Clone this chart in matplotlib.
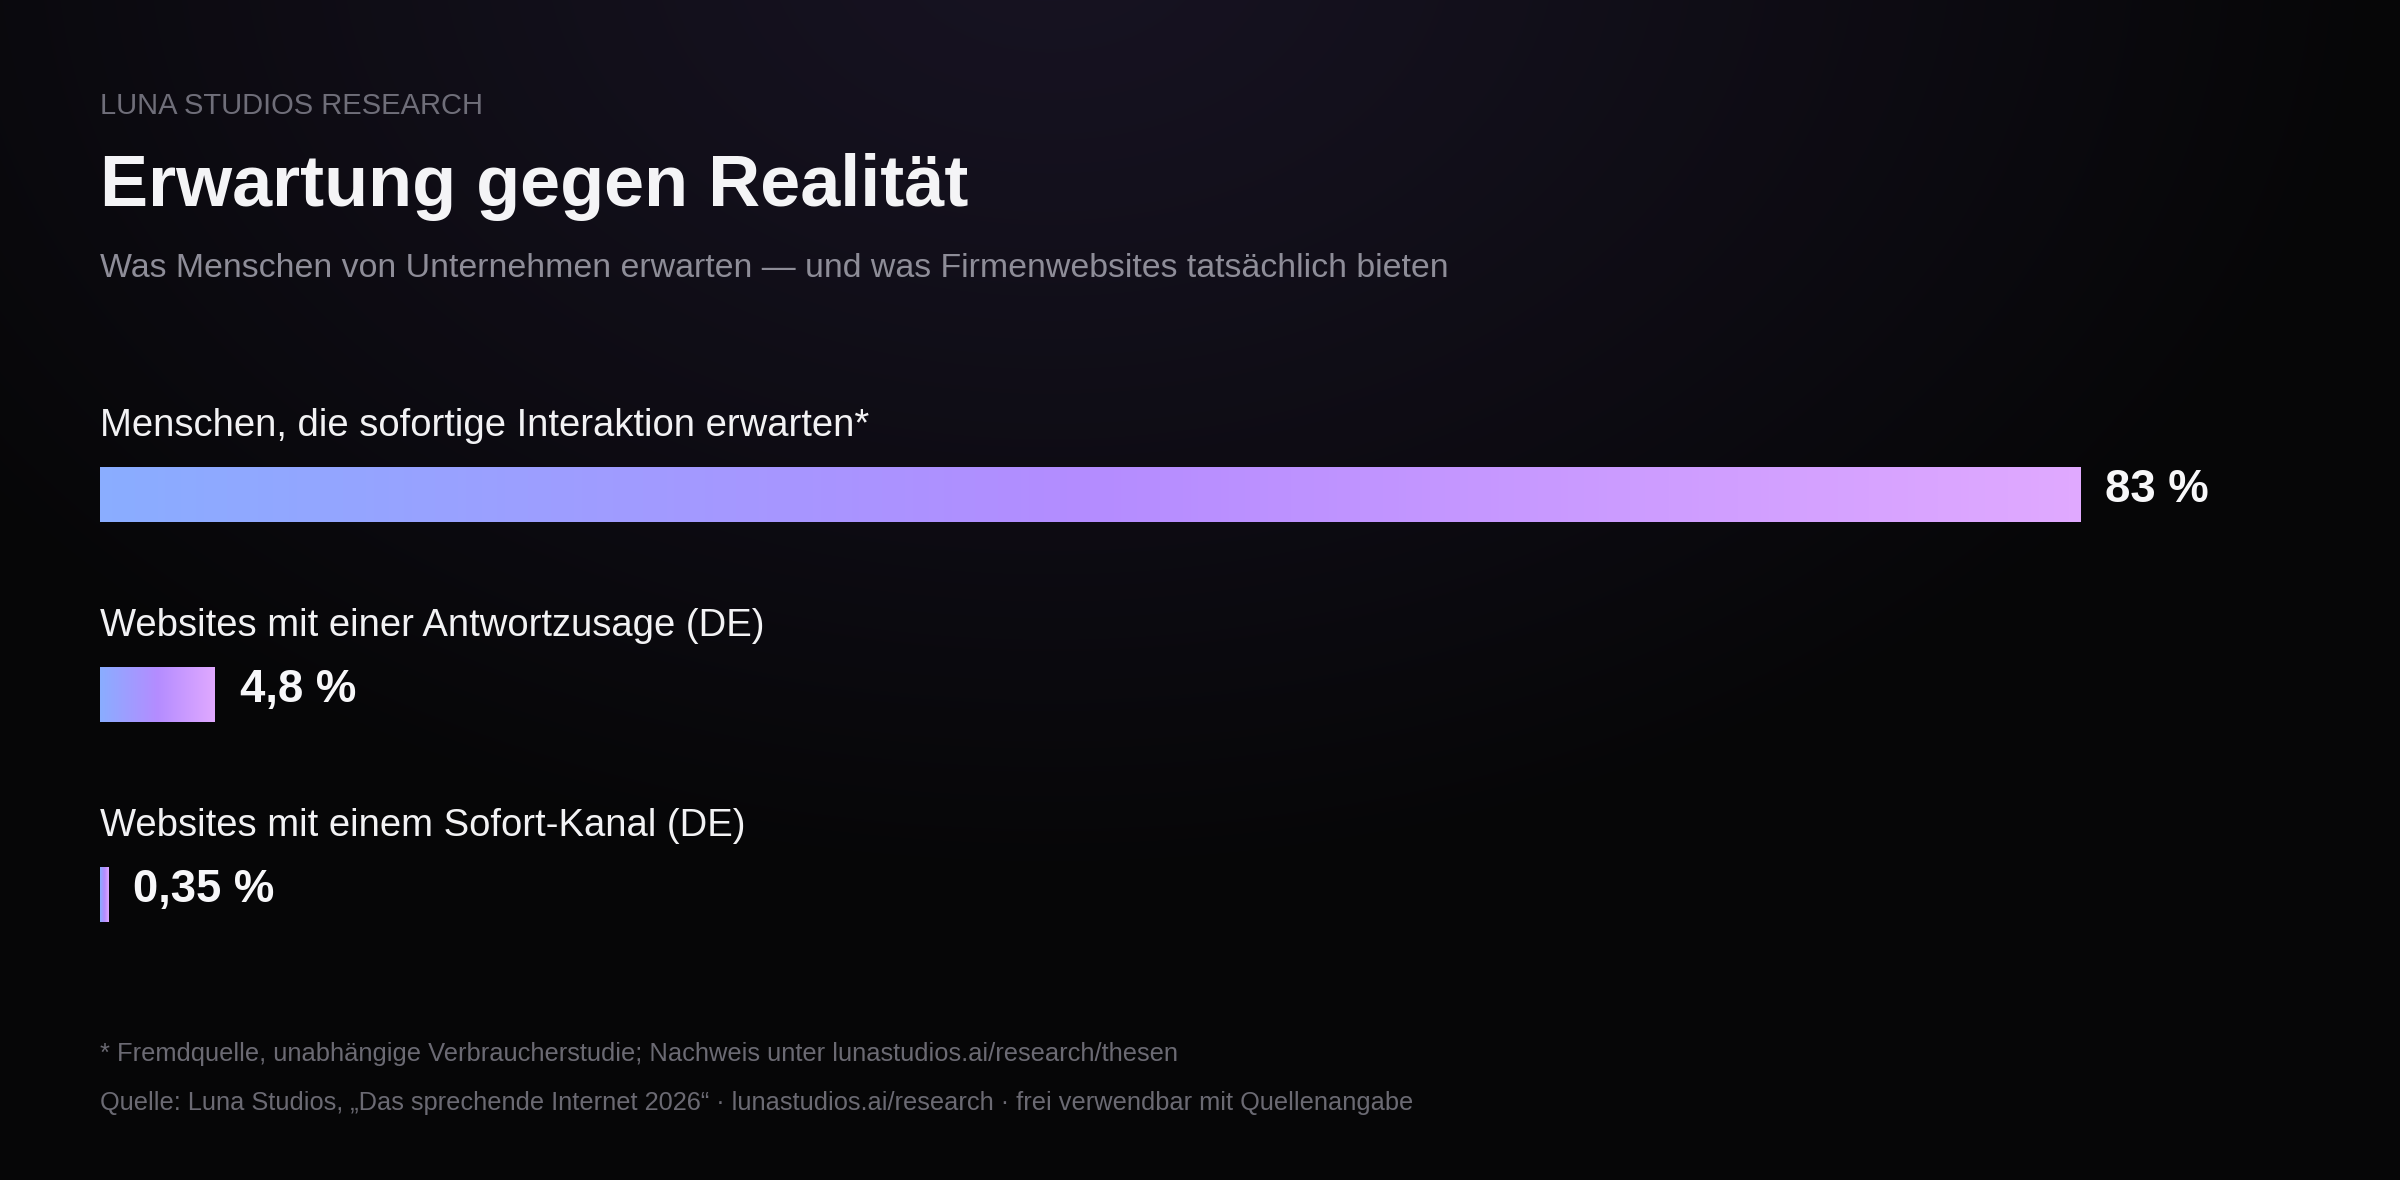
import numpy as np
import matplotlib
matplotlib.use("Agg")
import matplotlib.pyplot as plt
from matplotlib.colors import LinearSegmentedColormap

plt.rcParams['font.family'] = ['Liberation Sans', 'DejaVu Sans']

# ---- data ----
categories = [
    "Menschen, die sofortige Interaktion erwarten*",
    "Websites mit einer Antwortzusage (DE)",
    "Websites mit einem Sofort-Kanal (DE)",
]
values = [83, 4.8, 0.35]
value_labels = [f"{v:g}".replace('.', ',') + " %" for v in values]

kicker = "LUNA STUDIOS RESEARCH"
title = "Erwartung gegen Realität"
subtitle = "Was Menschen von Unternehmen erwarten — und was Firmenwebsites tatsächlich bieten"
footnote = "* Fremdquelle, unabhängige Verbraucherstudie; Nachweis unter lunastudios.ai/research/thesen"
source = "Quelle: Luna Studios, „Das sprechende Internet 2026“ · lunastudios.ai/research · frei verwendbar mit Quellenangabe"

# ---- figure ----
W, H = 2400, 1180
fig = plt.figure(figsize=(W / 100, H / 100), dpi=100)

# background radial glow
bg = fig.add_axes([0, 0, 1, 1], zorder=-10)
yy, xx = np.mgrid[0:H, 0:W]
d = np.sqrt(((xx - 1050) / 1350.0) ** 2 + ((yy + 60) / 950.0) ** 2)
t = np.clip(d, 0, 1) ** 1.2
c0 = np.array([0x17, 0x13, 0x22]) / 255.0
c1 = np.array([0x06, 0x06, 0x07]) / 255.0
img = c0[None, None, :] * (1 - t[..., None]) + c1[None, None, :] * t[..., None]
bg.imshow(img, extent=[0, W, H, 0], aspect='auto', interpolation='bilinear')
bg.set_xlim(0, W)
bg.set_ylim(H, 0)
bg.axis('off')


def fy(y):
    return 1 - y / H


def fx(x):
    return x / W


# header texts
fig.text(fx(100), fy(114), kicker, fontsize=21, color='#6f6e79', va='baseline', ha='left')
fig.text(fx(100), fy(206), title, fontsize=51.8, fontweight='bold', color='#f4f4f6', va='baseline', ha='left')
fig.text(fx(100), fy(277), subtitle, fontsize=24.4, color='#8e8d98', va='baseline', ha='left')

# main axes (1 data unit on y = 200 px per row)
px_per_pct = 1980 / 83.0
ax = fig.add_axes([fx(100), 1 - 994.5 / H, 2200 / W, 600 / H])
ax.patch.set_alpha(0)
ax.axis('off')

cmap = LinearSegmentedColormap.from_list('grad', ['#8aadff', '#b48cff', '#e0a9ff'])
grad = np.linspace(0, 1, 256)[None, :]
bar_h = 56 / 200.0
ypos = np.arange(len(categories))
bars = ax.barh(ypos, values, height=bar_h, color='#b48cff', linewidth=0)
for b, v, y in zip(bars, values, ypos):
    b.set_alpha(0)
    im = ax.imshow(grad, extent=[0, v, y + bar_h / 2, y - bar_h / 2], cmap=cmap,
                   aspect='auto', interpolation='bilinear')
    im.set_clip_path(b)

ax.set_xlim(0, 2200 / px_per_pct)
ax.set_ylim(2.5, -0.5)

for y, lab in zip(ypos, categories):
    ax.text(0, y - 58.5 / 200.0, lab, fontsize=27.5, color='#f2f2f4', va='baseline', ha='left')

for y, v, vl in zip(ypos, values, value_labels):
    ax.annotate(vl, xy=(v, y), xytext=(25, -7.5), textcoords='offset pixels',
                fontsize=32.8, fontweight='bold', color='#f7f7f9', va='baseline', ha='left')

# footnotes
fig.text(fx(100), fy(1061), footnote, fontsize=18.4, color='#6b6a73', va='baseline', ha='left')
fig.text(fx(100), fy(1110), source, fontsize=18.3, color='#6b6a73', va='baseline', ha='left')

fig.savefig('out.png', dpi=100, facecolor='#060607')
